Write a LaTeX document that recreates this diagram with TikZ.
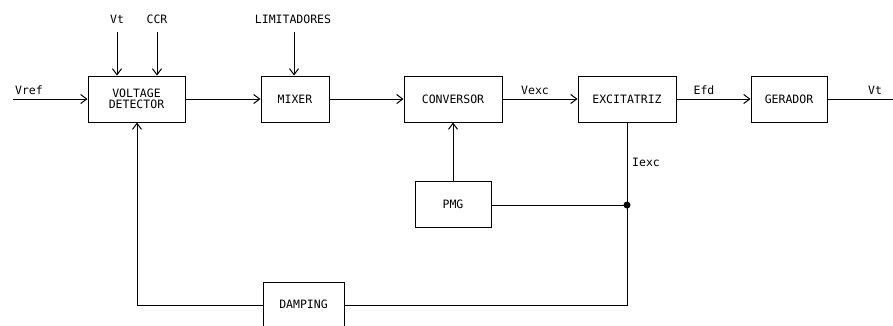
\documentclass[tikz,border=0pt]{standalone}
\usepackage{fontspec}
\setmainfont{DejaVu Sans Mono}
\usetikzlibrary{arrows.meta}
\begin{document}
\begin{tikzpicture}[x=1pt,y=-1pt,
  blk/.style={draw,line width=1pt,minimum height=46pt,inner sep=0pt,font=\fontsize{11.5}{12}\selectfont},
  lbl/.style={inner sep=0pt,font=\fontsize{11.5}{12}\selectfont},
  wire/.style={line width=1pt},
  arr/.style={wire,-{Straight Barb[length=6pt,width=9pt,line width=1pt]}}]
\useasboundingbox (0,0) rectangle (893,325);
\clip (0,0) rectangle (893,325);
\node[blk,minimum width=97pt,align=center] (vd) at (136.5,99) {VOLTAGE\\[-1pt]DETECTOR};
\node[blk,minimum width=68pt] (mx) at (295,99) {MIXER};
\node[blk,minimum width=98pt] (cv) at (453,99) {CONVERSOR};
\node[blk,minimum width=98pt] (ex) at (627,99) {EXCITATRIZ};
\node[blk,minimum width=76pt] (ge) at (789,99) {GERADOR};
\node[blk,minimum width=76pt] (pmg) at (453,204) {PMG};
\node[blk,minimum width=81pt,minimum height=44pt] (dp) at (303.5,304) {DAMPING};
% free ends
\coordinate (vrefin) at (13,99);
\coordinate (vtin) at (117,32);
\coordinate (ccrin) at (157,32);
\coordinate (limin) at (294,32);
\coordinate (vtout) at (893,99);
\coordinate (dot) at (627,205);
\coordinate (br) at (627,305);
\coordinate (bl) at (137,305);
% labels
\node[lbl] (lvref) at (29,90) {Vref};
\node[lbl] (lvt) at (117,19) {Vt};
\node[lbl] (lccr) at (157,19) {CCR};
\node[lbl] (llim) at (293,19) {LIMITADORES};
\node[lbl] (lvexc) at (535,90) {Vexc};
\node[lbl] (lefd) at (704,90) {Efd};
\node[lbl] (lvt2) at (875,90) {Vt};
\node[lbl,anchor=west] (liexc) at (632,162) {Iexc};
% connectors
\draw[arr] (vrefin) -- (vd.west);
\draw[arr] (vtin) -- (vtin |- vd.north);
\draw[arr] (ccrin) -- (ccrin |- vd.north);
\draw[arr] (limin) -- (limin |- mx.north);
\draw[arr] (vd.east) -- (mx.west);
\draw[arr] (mx.east) -- (cv.west);
\draw[arr] (cv.east) -- (ex.west);
\draw[arr] (ex.east) -- (ge.west);
\draw[wire] (ge.east) -- (vtout);
\draw[arr] (pmg.north) -- (cv.south);
\draw[wire] (pmg.east |- dot) -- (dot);
\draw[wire] (ex.south) -- (br) -- (dp.east |- br);
\draw[arr] (dp.west |- bl) -- (bl) -- (bl |- vd.south);
\fill (dot) circle (3.5pt);
\end{tikzpicture}
\end{document}
